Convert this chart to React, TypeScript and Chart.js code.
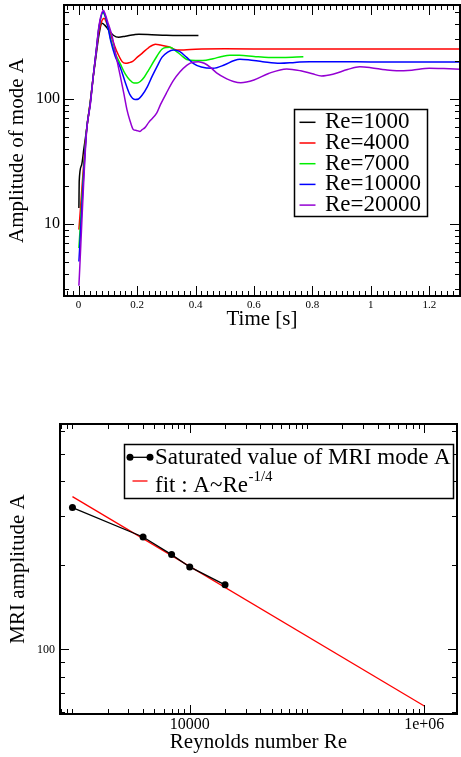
import React, { useEffect, useRef } from "react";
import { Chart, registerables } from "chart.js";

Chart.register(...registerables);

const SERIF = "'Liberation Serif', 'Times New Roman', Times, serif";

// ---------------- Top chart: amplitude of mode A vs time ----------------
const SERIES_LABELS = ["Re=1000", "Re=4000", "Re=7000", "Re=10000", "Re=20000"];
const SERIES_COLORS = ["#000000", "#ff0000", "#00ee00", "#0000ff", "#9400d3"];

const T_RE1000 = [0.001, 0.002, 0.01, 0.018, 0.027, 0.04, 0.05, 0.06, 0.07, 0.08, 0.09, 0.103, 0.12, 0.137, 0.16, 0.19, 0.206, 0.25, 0.3, 0.35, 0.41];
const A_RE1000 = [13.4, 21.8, 29.5, 40, 56, 95, 150, 225, 330, 403, 388, 356, 322, 312, 318, 327, 330, 327, 323, 322, 322];

const T_RE4000 = [0.001, 0.027, 0.04, 0.05, 0.06, 0.07, 0.08, 0.087, 0.095, 0.1, 0.115, 0.13, 0.149, 0.16, 0.172, 0.185, 0.2, 0.217, 0.24, 0.263, 0.28, 0.308, 0.336, 0.36, 0.4, 0.5, 0.7, 1.0, 1.305];
const A_RE4000 = [9, 56, 95, 152, 235, 350, 425, 443, 410, 383, 300, 242, 199, 193, 195, 200, 215, 232, 258, 274, 270, 262, 247, 247, 250, 252, 251, 251, 251];

const T_RE7000 = [0.001, 0.027, 0.04, 0.05, 0.06, 0.07, 0.083, 0.092, 0.1, 0.11, 0.126, 0.143, 0.16, 0.175, 0.189, 0.2, 0.211, 0.225, 0.24, 0.26, 0.285, 0.3, 0.313, 0.33, 0.35, 0.37, 0.4, 0.425, 0.46, 0.49, 0.518, 0.55, 0.6, 0.65, 0.7, 0.769];
const A_RE7000 = [6.4, 56, 93, 152, 240, 375, 490, 450, 385, 300, 230, 190, 158, 142, 134, 134, 138, 150, 171, 205, 250, 258, 259, 245, 225, 207, 203, 203, 210, 219, 224, 224, 219, 215, 215, 218];

const T_RE10000 = [0.001, 0.027, 0.04, 0.05, 0.06, 0.07, 0.084, 0.092, 0.1, 0.11, 0.125, 0.143, 0.16, 0.175, 0.194, 0.205, 0.217, 0.235, 0.251, 0.27, 0.285, 0.305, 0.324, 0.345, 0.37, 0.392, 0.42, 0.46, 0.5, 0.53, 0.552, 0.58, 0.63, 0.689, 0.74, 0.79, 0.9, 1.0, 1.305];
const A_RE10000 = [5.0, 55, 92, 152, 240, 380, 500, 455, 380, 290, 220, 178, 135, 109, 99, 100, 107, 125, 151, 185, 215, 237, 247, 240, 215, 193, 180, 176, 188, 202, 208, 206, 199, 193, 196, 199, 199, 198, 198];

const T_RE20000 = [0.001, 0.027, 0.04, 0.05, 0.06, 0.07, 0.085, 0.092, 0.1, 0.115, 0.13, 0.143, 0.155, 0.166, 0.175, 0.187, 0.198, 0.21, 0.218, 0.227, 0.24, 0.267, 0.28, 0.3, 0.324, 0.347, 0.37, 0.39, 0.41, 0.43, 0.45, 0.472, 0.507, 0.53, 0.555, 0.6, 0.65, 0.712, 0.76, 0.8, 0.831, 0.87, 0.92, 0.962, 1.0, 1.05, 1.088, 1.14, 1.2, 1.25, 1.305];
const A_RE20000 = [3.2, 54, 90, 150, 240, 390, 512, 470, 410, 315, 210, 151, 110, 81, 68, 57, 56, 55, 57, 59, 65, 77, 90, 111, 140, 165, 186, 197, 199, 193, 180, 162, 145, 138, 135, 142, 160, 174, 168, 159, 153, 158, 172, 181, 178, 171, 168, 170, 176, 175, 173];

const TOP_TIMES = [T_RE1000, T_RE4000, T_RE7000, T_RE10000, T_RE20000];
const TOP_AMPS = [A_RE1000, A_RE4000, A_RE7000, A_RE10000, A_RE20000];

const TOP_X_MIN = -0.05;
const TOP_X_MAX = 1.305;
const TOP_Y_MIN = 2.65;
const TOP_Y_MAX = 565;
const TOP_X_LABELS = [0, 0.2, 0.4, 0.6, 0.8, 1, 1.2];
const TOP_X_MINOR_STEP = 0.02;
const TOP_Y_TICKS = [3, 4, 5, 6, 7, 8, 9, 10, 20, 30, 40, 50, 60, 70, 80, 90, 100, 200, 300, 400, 500];
const TOP_Y_LABELS = [10, 100];

// ---------------- Bottom chart: saturated amplitude vs Re ----------------
const RE_VALUES = [1000, 4000, 7000, 10000, 20000];
const SATURATED_A = [321, 252, 218, 197, 170];
const FIT_RE = [1000, 1000000];
const FIT_A = [351, 62.8];
const BOTTOM_LABELS = ["Saturated value of MRI mode A", "fit : A~Re"];
const FIT_EXPONENT_TEXT = "-1/4";

const BOTTOM_X_MIN = 783;
const BOTTOM_X_MAX = 1.9e6;
const BOTTOM_Y_MIN = 58.8;
const BOTTOM_Y_MAX = 638;
const BOTTOM_X_TICKS = [
  800, 900,
  1000, 2000, 3000, 4000, 5000, 6000, 7000, 8000, 9000,
  10000, 20000, 30000, 40000, 50000, 60000, 70000, 80000, 90000,
  100000, 200000, 300000, 400000, 500000, 600000, 700000, 800000, 900000,
  1000000,
];
const BOTTOM_X_LABEL_VALUES = [10000, 1000000];
const BOTTOM_X_LABEL_TEXT = ["10000", "1e+06"];
const BOTTOM_Y_TICKS = [60, 70, 80, 90, 100, 200, 300, 400, 500, 600];
const BOTTOM_Y_LABELS = [100];

// ---------------- plugins ----------------
function frameTicksPlugin(majorLen: number, minorLen: number, frameWidth: number) {
  return {
    id: "frameTicks",
    afterDatasetsDraw(chart: any) {
      const { ctx, chartArea } = chart;
      const { left, right, top, bottom } = chartArea;
      ctx.save();
      ctx.strokeStyle = "#000";
      ctx.lineWidth = 1;
      ctx.beginPath();
      Object.values(chart.scales).forEach((scale: any) => {
        scale.ticks.forEach((tick: any) => {
          const isMajor = typeof tick.label === "string" && tick.label.length > 0;
          const len = isMajor ? majorLen : minorLen;
          const raw = scale.getPixelForValue(tick.value);
          const p = Math.round(raw) + 0.5;
          if (scale.isHorizontal()) {
            if (raw <= left + 1 || raw >= right - 1) return;
            ctx.moveTo(p, bottom);
            ctx.lineTo(p, bottom - len);
            ctx.moveTo(p, top);
            ctx.lineTo(p, top + len);
          } else {
            if (raw <= top + 1 || raw >= bottom - 1) return;
            ctx.moveTo(left, p);
            ctx.lineTo(left + len, p);
            ctx.moveTo(right, p);
            ctx.lineTo(right - len, p);
          }
        });
      });
      ctx.stroke();
      ctx.lineWidth = frameWidth;
      ctx.strokeRect(left, top, right - left, bottom - top);
      ctx.restore();
    },
  };
}

type LegendRow = {
  lineY: number;
  x1: number;
  x2: number;
  textX: number;
  textY: number;
  marker?: boolean;
  sup?: string;
  supY?: number;
};

function boxLegendPlugin(box: number[], rows: LegendRow[], size: number, supSize: number) {
  return {
    id: "boxLegend",
    afterDraw(chart: any) {
      const ctx = chart.ctx;
      ctx.save();
      const [bx, by, bw, bh] = box;
      ctx.fillStyle = "#fff";
      ctx.fillRect(bx, by, bw, bh);
      ctx.strokeStyle = "#000";
      ctx.lineWidth = 1.5;
      ctx.strokeRect(bx, by, bw, bh);
      rows.forEach((row, i) => {
        const ds = chart.data.datasets[i];
        ctx.strokeStyle = ds.borderColor;
        ctx.lineWidth = ds.borderWidth;
        ctx.beginPath();
        ctx.moveTo(row.x1, row.lineY);
        ctx.lineTo(row.x2, row.lineY);
        ctx.stroke();
        if (row.marker) {
          ctx.fillStyle = ds.pointBackgroundColor || ds.borderColor;
          [row.x1, row.x2].forEach((mx) => {
            ctx.beginPath();
            ctx.arc(mx, row.lineY, ds.pointRadius || 3, 0, Math.PI * 2);
            ctx.fill();
          });
        }
        ctx.fillStyle = "#000";
        ctx.font = `${size}px ${SERIF}`;
        ctx.textAlign = "left";
        ctx.textBaseline = "middle";
        ctx.fillText(ds.label, row.textX, row.textY);
        if (row.sup) {
          const w = ctx.measureText(ds.label).width;
          ctx.font = `${supSize}px ${SERIF}`;
          ctx.textBaseline = "alphabetic";
          ctx.fillText(row.sup, row.textX + w + 0.5, row.supY);
        }
      });
      ctx.restore();
    },
  };
}

const noPad = (scale: any) => {
  scale.paddingTop = 0;
  scale.paddingBottom = 0;
  scale.paddingLeft = 0;
  scale.paddingRight = 0;
};

function buildTopChart(canvas: HTMLCanvasElement) {
  const datasets = SERIES_LABELS.map((label, i) => ({
    label,
    data: TOP_TIMES[i].map((t, j) => ({ x: t, y: TOP_AMPS[i][j] })),
    borderColor: SERIES_COLORS[i],
    backgroundColor: SERIES_COLORS[i],
    borderWidth: 1.5,
    pointRadius: 0,
    fill: false,
    cubicInterpolationMode: "monotone" as const,
    order: SERIES_LABELS.length - i,
  }));

  const legendRows: LegendRow[] = SERIES_LABELS.map((_, i) => {
    const y = 122.3 + i * 20.7;
    return { lineY: y, x1: 299.5, x2: 315.5, textX: 325, textY: y };
  });

  return new Chart(canvas, {
    type: "line",
    data: { datasets },
    options: {
      responsive: false,
      animation: false,
      devicePixelRatio: 1,
      layout: { padding: { top: 5, right: 1, left: 0, bottom: 0 } },
      plugins: { legend: { display: false }, tooltip: { enabled: false } },
      scales: {
        x: {
          type: "linear",
          min: TOP_X_MIN,
          max: TOP_X_MAX,
          afterBuildTicks: (scale: any) => {
            const ticks = [];
            const first = Math.ceil(TOP_X_MIN / TOP_X_MINOR_STEP);
            const last = Math.floor(TOP_X_MAX / TOP_X_MINOR_STEP);
            for (let k = first; k <= last; k++) {
              ticks.push({ value: +(k * TOP_X_MINOR_STEP).toFixed(2) });
            }
            scale.ticks = ticks;
          },
          afterFit: (scale: any) => {
            scale.height = 44;
            noPad(scale);
          },
          ticks: {
            autoSkip: false,
            maxRotation: 0,
            minRotation: 0,
            padding: 3,
            color: "#000",
            font: { family: SERIF, size: 11 },
            callback: (v: any) => (TOP_X_LABELS.includes(+v) ? String(+v) : ""),
          },
          grid: { display: false, drawTicks: false },
          border: { display: false },
          title: {
            display: true,
            text: "Time [s]",
            color: "#000",
            font: { family: SERIF, size: 21 },
            padding: { top: 0, bottom: 8 },
          },
        },
        y: {
          type: "logarithmic",
          min: TOP_Y_MIN,
          max: TOP_Y_MAX,
          afterBuildTicks: (scale: any) => {
            scale.ticks = TOP_Y_TICKS.map((v) => ({ value: v }));
          },
          afterFit: (scale: any) => {
            scale.width = 64;
            noPad(scale);
          },
          ticks: {
            autoSkip: false,
            padding: 4,
            color: "#000",
            font: { family: SERIF, size: 16 },
            callback: (v: any) => (TOP_Y_LABELS.includes(+v) ? String(+v) : ""),
          },
          grid: { display: false, drawTicks: false },
          border: { display: false },
          title: {
            display: true,
            text: "Amplitude of mode A",
            color: "#000",
            font: { family: SERIF, size: 21 },
            padding: { top: 5, bottom: 0 },
          },
        },
      },
    },
    plugins: [frameTicksPlugin(10, 5, 2), boxLegendPlugin([294.5, 109.5, 133, 107], legendRows, 23, 15)],
  } as any);
}

function buildBottomChart(canvas: HTMLCanvasElement) {
  const datasets = [
    {
      label: BOTTOM_LABELS[0],
      data: RE_VALUES.map((re, i) => ({ x: re, y: SATURATED_A[i] })),
      borderColor: "#000000",
      backgroundColor: "#000000",
      pointBackgroundColor: "#000000",
      pointBorderWidth: 0,
      pointRadius: 3.5,
      borderWidth: 1.3,
      fill: false,
      tension: 0,
      order: 0,
    },
    {
      label: BOTTOM_LABELS[1],
      data: FIT_RE.map((re, i) => ({ x: re, y: FIT_A[i] })),
      borderColor: "#ff0000",
      backgroundColor: "#ff0000",
      pointRadius: 0,
      borderWidth: 1.3,
      fill: false,
      tension: 0,
      order: 1,
    },
  ];

  const legendRows: LegendRow[] = [
    { lineY: 57.3, x1: 130, x2: 150, textX: 155, textY: 57.5 },
    { lineY: 81, x1: 132.5, x2: 147.5, textX: 155, textY: 85.5, sup: FIT_EXPONENT_TEXT, supY: 80.5 },
  ];
  legendRows[0].marker = true;

  return new Chart(canvas, {
    type: "line",
    data: { datasets },
    options: {
      responsive: false,
      animation: false,
      devicePixelRatio: 1,
      layout: { padding: { top: 24, right: 1, left: 0, bottom: 0 } },
      plugins: { legend: { display: false }, tooltip: { enabled: false } },
      scales: {
        x: {
          type: "logarithmic",
          min: BOTTOM_X_MIN,
          max: BOTTOM_X_MAX,
          afterBuildTicks: (scale: any) => {
            scale.ticks = BOTTOM_X_TICKS.map((v) => ({ value: v }));
          },
          afterFit: (scale: any) => {
            scale.height = 43;
            noPad(scale);
          },
          ticks: {
            autoSkip: false,
            maxRotation: 0,
            minRotation: 0,
            padding: 1,
            color: "#000",
            font: { family: SERIF, size: 16 },
            callback: (v: any) => {
              const idx = BOTTOM_X_LABEL_VALUES.indexOf(+v);
              return idx >= 0 ? BOTTOM_X_LABEL_TEXT[idx] : "";
            },
          },
          grid: { display: false, drawTicks: false },
          border: { display: false },
          title: {
            display: true,
            text: "Reynolds number Re",
            color: "#000",
            font: { family: SERIF, size: 21 },
            padding: { top: 0, bottom: 2 },
          },
        },
        y: {
          type: "logarithmic",
          min: BOTTOM_Y_MIN,
          max: BOTTOM_Y_MAX,
          afterBuildTicks: (scale: any) => {
            scale.ticks = BOTTOM_Y_TICKS.map((v) => ({ value: v }));
          },
          afterFit: (scale: any) => {
            scale.width = 60;
            noPad(scale);
          },
          ticks: {
            autoSkip: false,
            padding: 5,
            color: "#000",
            font: { family: SERIF, size: 12 },
            callback: (v: any) => (BOTTOM_Y_LABELS.includes(+v) ? String(+v) : ""),
          },
          grid: { display: false, drawTicks: false },
          border: { display: false },
          title: {
            display: true,
            text: "MRI amplitude A",
            color: "#000",
            font: { family: SERIF, size: 21 },
            padding: { top: 6, bottom: 0 },
          },
        },
      },
    },
    plugins: [frameTicksPlugin(9, 5, 2), boxLegendPlugin([124.5, 44.5, 329, 54], legendRows, 23, 15)],
  } as any);
}

export default function App() {
  const topRef = useRef<HTMLCanvasElement | null>(null);
  const bottomRef = useRef<HTMLCanvasElement | null>(null);

  useEffect(() => {
    const top = topRef.current ? buildTopChart(topRef.current) : null;
    const bottom = bottomRef.current ? buildBottomChart(bottomRef.current) : null;
    return () => {
      if (top) top.destroy();
      if (bottom) bottom.destroy();
    };
  }, []);

  return (
    <div style={{ position: "absolute", left: 0, top: 0, width: 461, height: 757, background: "#fff" }}>
      <canvas
        ref={topRef}
        width={461}
        height={340}
        style={{ position: "absolute", left: 0, top: 0, width: 461, height: 340 }}
      />
      <canvas
        ref={bottomRef}
        width={461}
        height={357}
        style={{ position: "absolute", left: 0, top: 400, width: 461, height: 357 }}
      />
    </div>
  );
}
